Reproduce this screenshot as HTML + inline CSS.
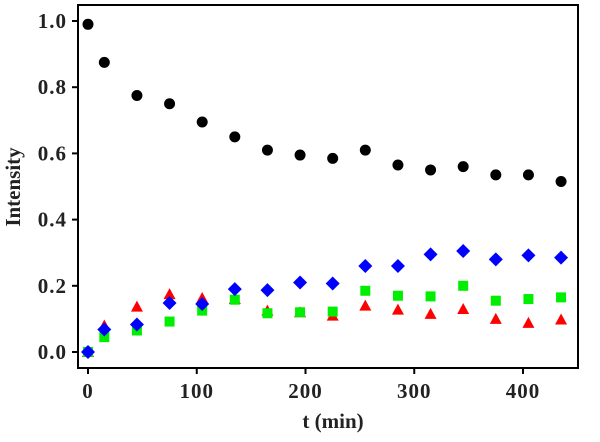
<!DOCTYPE html>
<html><head><meta charset="utf-8"><style>
body{margin:0;background:#fff}
svg text{font-family:"Liberation Serif",serif;font-weight:bold;fill:#222}
</style></head><body>
<svg id="chart" width="600" height="437" xmlns="http://www.w3.org/2000/svg">
<rect x="78" y="5" width="500" height="363" fill="none" stroke="#000" stroke-width="2"/>
<g id="ticks"></g>
<g id="marks"></g>
<text x="333" y="428" font-size="21" text-anchor="middle">t (min)</text>
<text transform="translate(20,187) rotate(-90)" font-size="21" text-anchor="middle">Intensity</text>
</svg>
<script>
const times=[0,15,45,75,105,135,165,195,225,255,285,315,345,375,405,435];
const black=[0.99,0.875,0.775,0.75,0.695,0.65,0.61,0.595,0.585,0.61,0.565,0.55,0.56,0.535,0.535,0.515];
const red=[0,0.08,0.137,0.175,0.163,0.16,0.125,0.12,0.11,0.14,0.128,0.115,0.13,0.1,0.088,0.098];
const green=[0,0.045,0.065,0.092,0.125,0.158,0.117,0.12,0.122,0.185,0.17,0.168,0.2,0.155,0.16,0.165];
const blue=[0,0.068,0.083,0.148,0.145,0.19,0.187,0.21,0.207,0.26,0.26,0.295,0.305,0.28,0.292,0.285];
const xTicks=[0,100,200,300,400];
const yTicks=[0,0.2,0.4,0.6,0.8,1.0];
const NS="http://www.w3.org/2000/svg";
const sx=v=>88+v*435/400;
const sy=v=>352-v*331;
const tg=document.getElementById('ticks'), mg=document.getElementById('marks');
function mk(tag,at,parent){const e=document.createElementNS(NS,tag);for(const k in at)e.setAttribute(k,at[k]);parent.appendChild(e);return e;}
xTicks.forEach(t=>{
 const l=mk('line',{x1:sx(t),x2:sx(t),y1:368,y2:374,stroke:'#000','stroke-width':2},tg);
 
 
 const tx=mk('text',{x:sx(t),y:398,'font-size':21,'letter-spacing':1,'text-anchor':'middle'},tg);tx.textContent=t;
 
 
});
yTicks.forEach(t=>{
 const l=mk('line',{x1:72,x2:78,y1:sy(t),y2:sy(t),stroke:'#000','stroke-width':2},tg);
 
 
 const tx=mk('text',{x:67,y:sy(t)+7,'font-size':21,'letter-spacing':1,'text-anchor':'end'},tg);tx.textContent=t.toFixed(1);
 
 
});
times.forEach((t,i)=>{
 const x=sx(t);
 let y=sy(red[i]);
 const r=mk('polygon',{points:`${x},${y-6} ${x-6},${y+5} ${x+6},${y+5}`,fill:'#f00'},mg);
 
 
 y=sy(green[i]);
 const g=mk('rect',{x:x-5,y:y-5,width:10,height:10,fill:'#0e0'},mg);
 
 
 y=sy(blue[i]);
 const b=mk('polygon',{points:`${x},${y-7} ${x+7},${y} ${x},${y+7} ${x-7},${y}`,fill:'#00f'},mg);
 
 
 y=sy(black[i]);
 const c=mk('circle',{cx:x,cy:y,r:5.5,fill:'#000'},mg);
 
 
});
</script>
</body></html>
